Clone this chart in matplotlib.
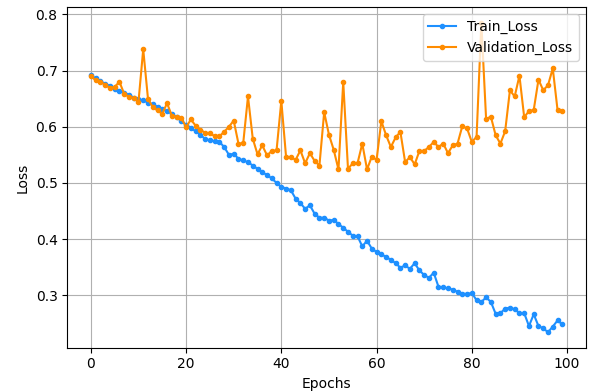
"""Train / validation loss curves over epochs."""

import matplotlib.pyplot as plt

plt.switch_backend("Agg")

epochs = list(range(100))

train_loss = [
    0.692, 0.686, 0.681, 0.677, 0.673, 0.668, 0.664, 0.661, 0.657, 0.652,
    0.649, 0.647, 0.643, 0.640, 0.636, 0.632, 0.628, 0.623, 0.617, 0.610,
    0.604, 0.598, 0.592, 0.586, 0.578, 0.576, 0.574, 0.573, 0.564, 0.550,
    0.552, 0.543, 0.540, 0.537, 0.531, 0.525, 0.519, 0.514, 0.508, 0.500,
    0.493, 0.490, 0.487, 0.472, 0.464, 0.454, 0.460, 0.445, 0.438, 0.438,
    0.433, 0.434, 0.427, 0.420, 0.413, 0.406, 0.405, 0.387, 0.397, 0.383,
    0.377, 0.373, 0.368, 0.363, 0.357, 0.349, 0.353, 0.347, 0.357, 0.344,
    0.336, 0.331, 0.340, 0.315, 0.314, 0.312, 0.310, 0.306, 0.303, 0.302,
    0.304, 0.291, 0.288, 0.296, 0.288, 0.267, 0.268, 0.276, 0.278, 0.275,
    0.268, 0.268, 0.245, 0.266, 0.245, 0.241, 0.234, 0.244, 0.255, 0.248,
]

val_loss = [
    0.690, 0.683, 0.680, 0.675, 0.669, 0.671, 0.680, 0.659, 0.653, 0.651,
    0.644, 0.738, 0.650, 0.635, 0.629, 0.623, 0.642, 0.620, 0.617, 0.616,
    0.599, 0.613, 0.602, 0.595, 0.589, 0.589, 0.583, 0.583, 0.591, 0.600,
    0.611, 0.570, 0.571, 0.654, 0.579, 0.551, 0.567, 0.549, 0.557, 0.558,
    0.646, 0.546, 0.546, 0.541, 0.558, 0.535, 0.553, 0.539, 0.531, 0.626,
    0.586, 0.559, 0.524, 0.680, 0.525, 0.535, 0.535, 0.570, 0.524, 0.547,
    0.541, 0.610, 0.585, 0.564, 0.581, 0.591, 0.537, 0.546, 0.533, 0.557,
    0.557, 0.564, 0.573, 0.564, 0.570, 0.553, 0.567, 0.570, 0.601, 0.597,
    0.573, 0.582, 0.785, 0.614, 0.618, 0.585, 0.570, 0.592, 0.665, 0.654,
    0.691, 0.617, 0.628, 0.630, 0.684, 0.665, 0.674, 0.704, 0.630, 0.628,
]

fig = plt.figure(figsize=(5.9, 3.92), dpi=100)
ax = fig.add_axes([0.114, 0.113, 0.879, 0.868])

ax.plot(epochs, train_loss, color="#1E90FF", marker="o", markersize=3,
        linewidth=1.5, label="Train_Loss")
ax.plot(epochs, val_loss, color="#FF8C00", marker="o", markersize=3,
        linewidth=1.5, label="Validation_Loss")

ax.set_xlabel("Epochs", fontsize=10)
ax.set_ylabel("Loss", fontsize=10)
ax.set_yticks([0.3, 0.4, 0.5, 0.6, 0.7, 0.8])
ax.grid(True, color="#b0b0b0", linewidth=0.8)
ax.legend(loc="upper right")

fig.savefig("out.png", dpi=100)
